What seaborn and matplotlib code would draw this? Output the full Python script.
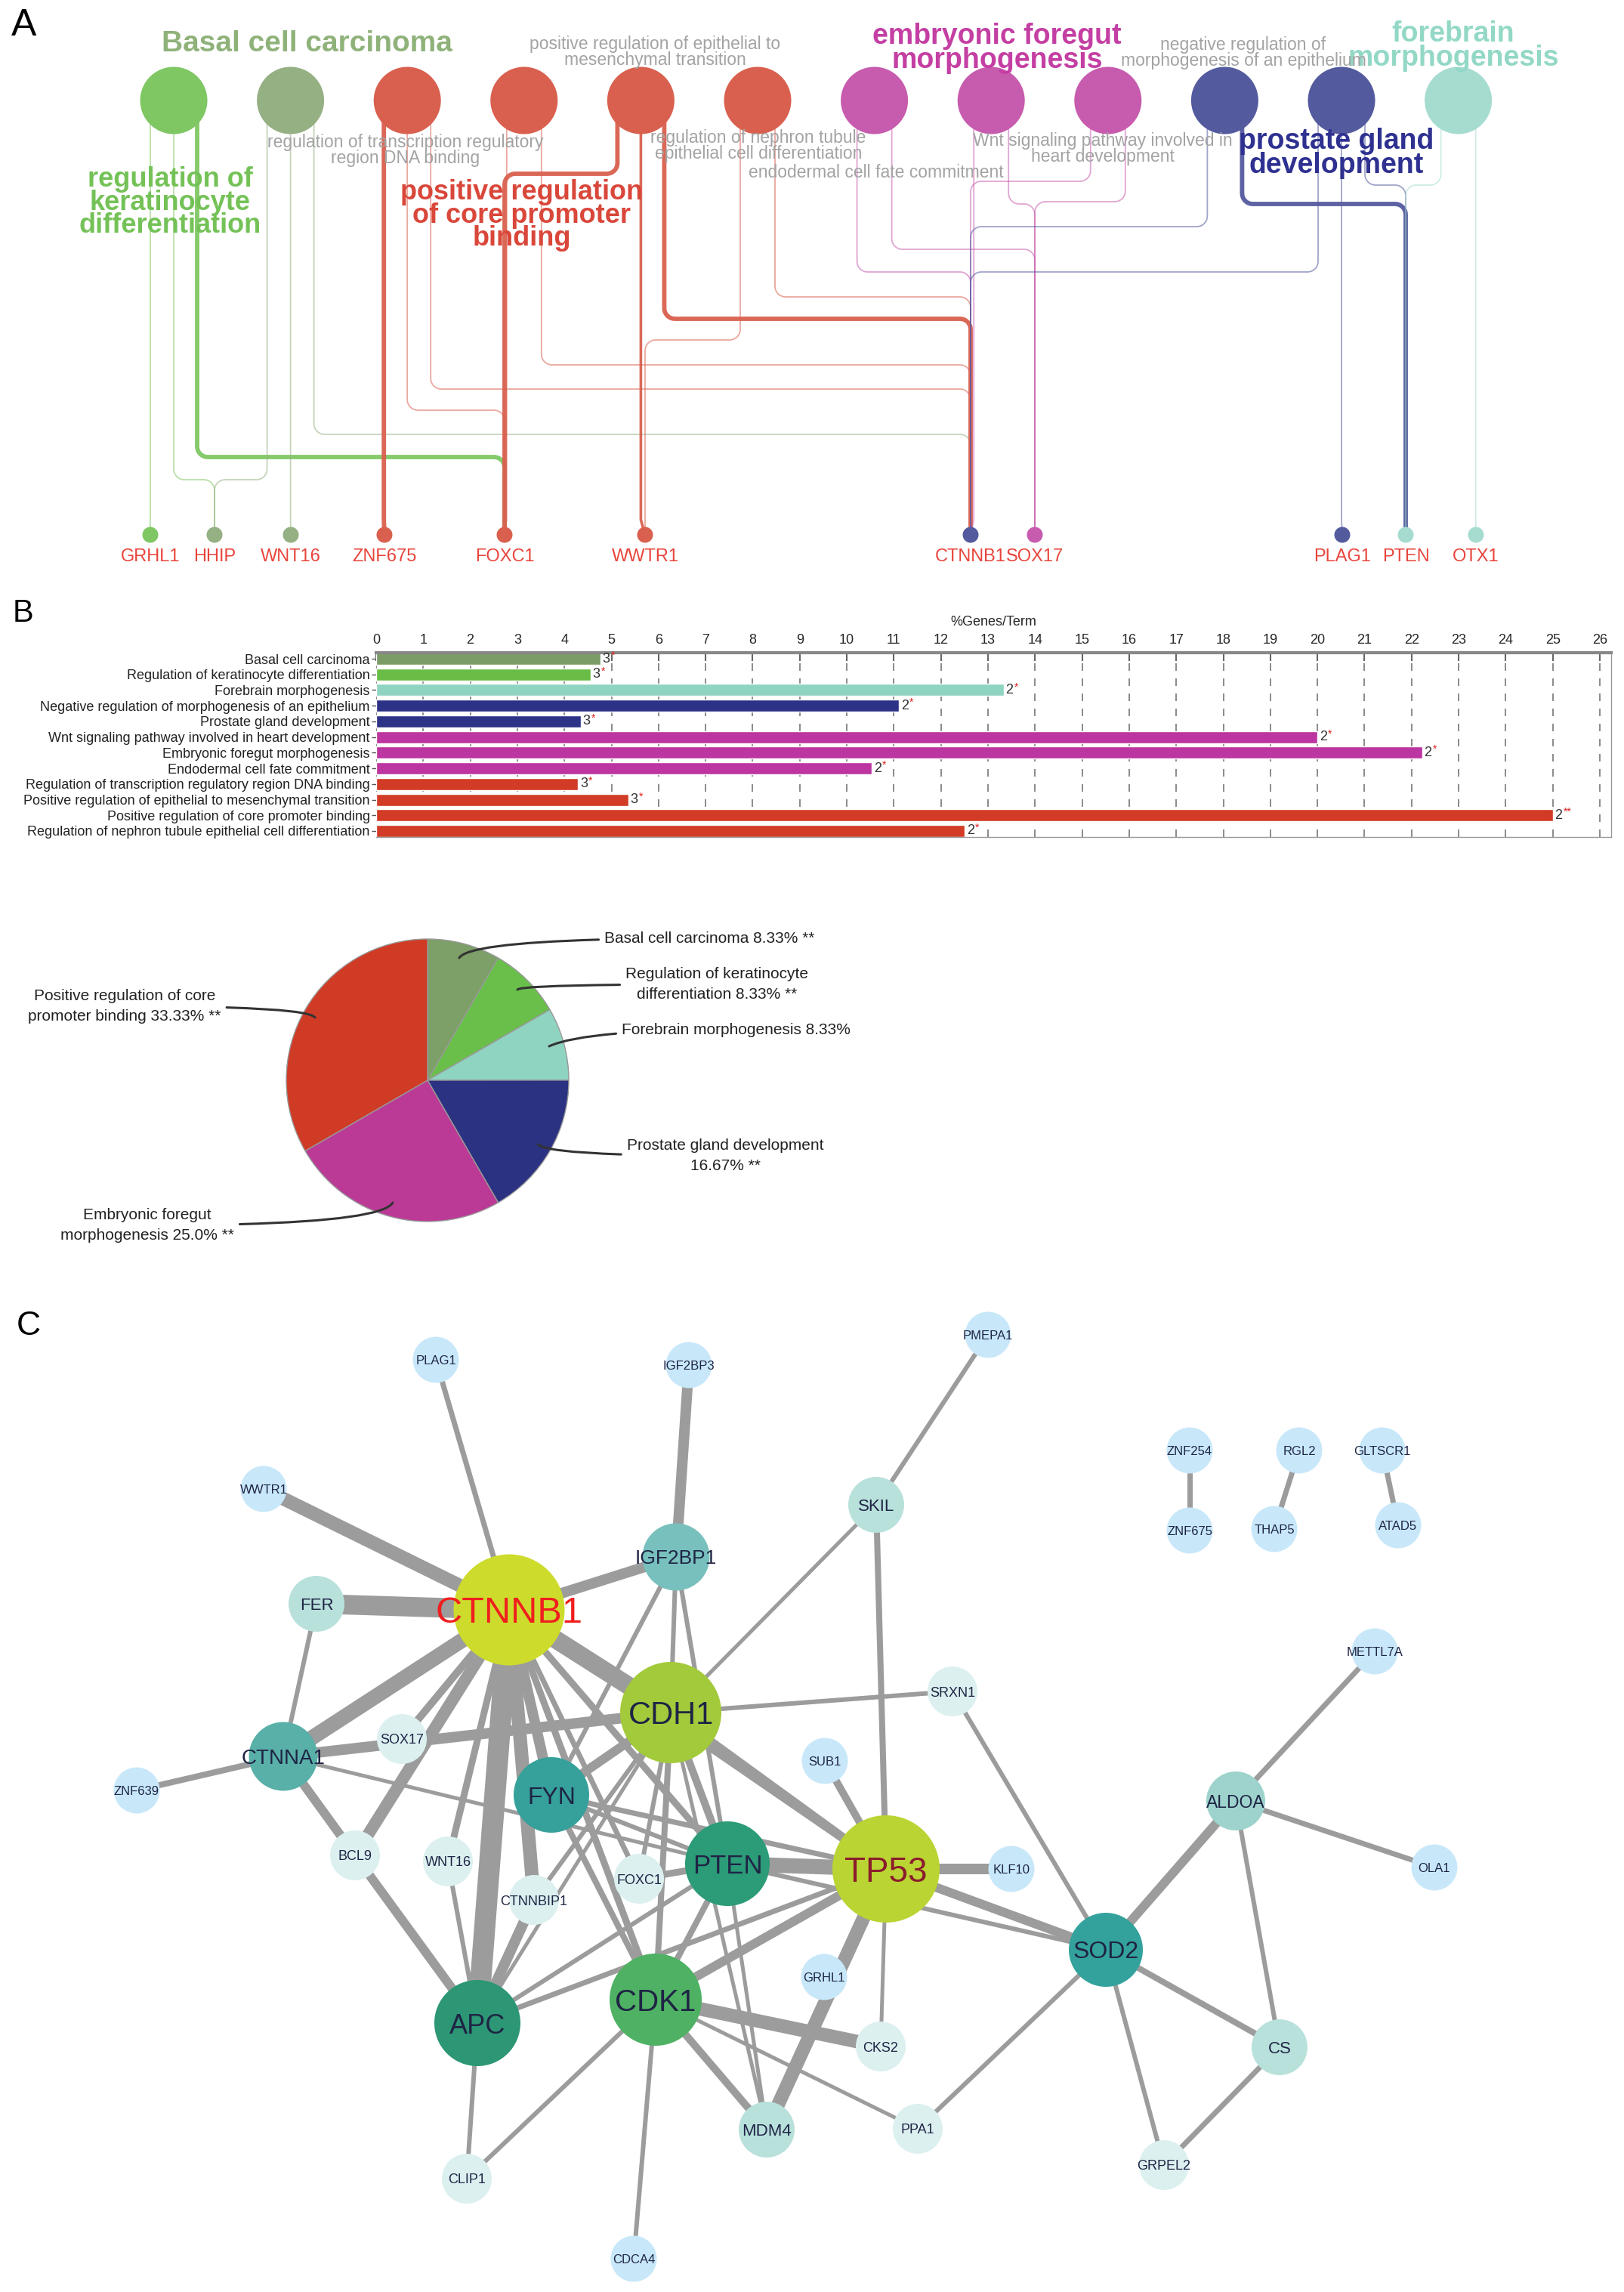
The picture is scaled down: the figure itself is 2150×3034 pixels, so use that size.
import textwrap

import matplotlib
matplotlib.use("Agg")
import matplotlib.pyplot as plt
import numpy as np
import pandas as pd
import seaborn as sns
from matplotlib.collections import LineCollection

sns.set_theme(style="white")
plt.rcParams["font.family"] = ["Liberation Sans", "DejaVu Sans"]

W, H = 2150, 3034

# ---------------- data: panel A (ClueGO terms -> genes)
go_terms = ["regulation of keratinocyte differentiation", "Basal cell carcinoma",
            "regulation of transcription regulatory region DNA binding",
            "positive regulation of core promoter binding",
            "positive regulation of epithelial to mesenchymal transition",
            "regulation of nephron tubule epithelial cell differentiation",
            "endodermal cell fate commitment", "embryonic foregut morphogenesis",
            "Wnt signaling pathway involved in heart development",
            "negative regulation of morphogenesis of an epithelium",
            "prostate gland development", "forebrain morphogenesis"]
go_group = ["kera", "basal", "red", "red", "red", "red", "mag", "mag", "mag", "navy", "navy", "teal"]
genes_a = ["GRHL1", "HHIP", "WNT16", "ZNF675", "FOXC1", "WWTR1", "CTNNB1", "SOX17", "PLAG1", "PTEN", "OTX1"]
# (term index, gene, link strength 1-3)
go_links = [(0, "GRHL1", 1), (0, "HHIP", 1), (0, "FOXC1", 3),
            (1, "HHIP", 1), (1, "WNT16", 1), (1, "CTNNB1", 1),
            (2, "ZNF675", 3), (2, "FOXC1", 1), (2, "CTNNB1", 1),
            (3, "FOXC1", 1), (3, "CTNNB1", 1),
            (4, "FOXC1", 3), (4, "WWTR1", 2), (4, "CTNNB1", 3),
            (5, "WWTR1", 1), (5, "CTNNB1", 1),
            (6, "CTNNB1", 1), (6, "SOX17", 1),
            (7, "CTNNB1", 1), (7, "SOX17", 1),
            (8, "CTNNB1", 1), (8, "SOX17", 1),
            (9, "CTNNB1", 1), (9, "PTEN", 3),
            (10, "CTNNB1", 1), (10, "PLAG1", 1), (10, "PTEN", 1),
            (11, "PTEN", 1), (11, "OTX1", 1)]

# ---------------- data: panel B (bar chart + pie)
bar_terms = ["Basal cell carcinoma", "Regulation of keratinocyte differentiation",
             "Forebrain morphogenesis", "Negative regulation of morphogenesis of an epithelium",
             "Prostate gland development", "Wnt signaling pathway involved in heart development",
             "Embryonic foregut morphogenesis", "Endodermal cell fate commitment",
             "Regulation of transcription regulatory region DNA binding",
             "Positive regulation of epithelial to mesenchymal transition",
             "Positive regulation of core promoter binding",
             "Regulation of nephron tubule epithelial cell differentiation"]
bar_pct = [4.76, 4.55, 13.33, 11.11, 4.35, 20.0, 22.22, 10.53, 4.29, 5.36, 25.0, 12.5]
bar_genes = [3, 3, 2, 2, 3, 2, 2, 2, 3, 3, 2, 2]
bar_stars = ["*", "*", "*", "*", "*", "*", "*", "*", "*", "*", "**", "*"]

pie_terms = ["Basal cell carcinoma", "Regulation of keratinocyte differentiation",
             "Forebrain morphogenesis", "Prostate gland development",
             "Embryonic foregut morphogenesis", "Positive regulation of core promoter binding"]
pie_pct = [8.33, 8.33, 8.33, 16.67, 25.0, 33.33]
pie_sig = ["**", "**", "", "**", "**", "**"]

# ---------------- data: panel C (PPI network)
net_nodes = ["CTNNB1", "TP53", "CDH1", "CDK1", "APC", "PTEN", "FYN", "SOD2", "CTNNA1", "IGF2BP1",
             "ALDOA", "SKIL", "FER", "MDM4", "CS", "BCL9", "WNT16", "CTNNBIP1", "FOXC1", "SOX17",
             "SRXN1", "CKS2", "PPA1", "GRPEL2", "CLIP1", "PLAG1", "IGF2BP3", "WWTR1", "ZNF639",
             "PMEPA1", "ZNF254", "ZNF675", "RGL2", "THAP5", "GLTSCR1", "ATAD5", "METTL7A", "OLA1",
             "KLF10", "SUB1", "GRHL1", "CDCA4"]
net_edges = [("CTNNB1", "PLAG1", 7), ("CTNNB1", "WWTR1", 18), ("CTNNB1", "IGF2BP1", 14),
             ("CTNNB1", "FER", 26), ("CTNNB1", "CTNNA1", 20), ("CTNNB1", "SOX17", 10),
             ("CTNNB1", "BCL9", 16), ("CTNNB1", "APC", 28), ("CTNNB1", "CTNNBIP1", 18),
             ("CTNNB1", "WNT16", 9), ("CTNNB1", "FYN", 14), ("CTNNB1", "CDH1", 24),
             ("CTNNB1", "PTEN", 9), ("CTNNB1", "FOXC1", 7), ("CTNNB1", "CDK1", 9),
             ("CTNNB1", "TP53", 9), ("IGF2BP1", "IGF2BP3", 14), ("IGF2BP1", "CDH1", 6),
             ("IGF2BP1", "FYN", 6), ("IGF2BP1", "PTEN", 6), ("FER", "CTNNA1", 6),
             ("CTNNA1", "ZNF639", 8), ("CTNNA1", "BCL9", 12), ("CTNNA1", "CDH1", 14),
             ("CTNNA1", "PTEN", 5), ("BCL9", "APC", 12), ("WNT16", "APC", 6),
             ("CTNNBIP1", "APC", 14), ("CTNNBIP1", "CDH1", 6), ("APC", "CDH1", 5),
             ("APC", "PTEN", 6), ("APC", "TP53", 7), ("APC", "CLIP1", 6), ("FYN", "CDH1", 12),
             ("FYN", "PTEN", 6), ("FYN", "TP53", 7), ("FYN", "CDK1", 8), ("CDH1", "SKIL", 5),
             ("CDH1", "SRXN1", 6), ("CDH1", "PTEN", 10), ("CDH1", "TP53", 12), ("CDH1", "CDK1", 8),
             ("CDH1", "FOXC1", 6), ("CDH1", "MDM4", 5), ("SKIL", "PMEPA1", 6), ("SKIL", "TP53", 8),
             ("SRXN1", "SOD2", 6), ("SUB1", "TP53", 10), ("TP53", "KLF10", 14), ("TP53", "PTEN", 20),
             ("TP53", "SOD2", 12), ("TP53", "CDK1", 12), ("TP53", "MDM4", 18), ("TP53", "CKS2", 5),
             ("PTEN", "FOXC1", 9), ("PTEN", "CDK1", 8), ("PTEN", "MDM4", 5), ("PTEN", "SOD2", 6),
             ("CDK1", "CKS2", 18), ("CDK1", "MDM4", 10), ("CDK1", "PPA1", 5), ("CDK1", "CDCA4", 6),
             ("CDK1", "CLIP1", 6), ("SOD2", "ALDOA", 12), ("SOD2", "CS", 8), ("SOD2", "GRPEL2", 6),
             ("SOD2", "PPA1", 6), ("ALDOA", "METTL7A", 7), ("ALDOA", "OLA1", 7), ("ALDOA", "CS", 6),
             ("CS", "GRPEL2", 7), ("ZNF254", "ZNF675", 7), ("RGL2", "THAP5", 7),
             ("GLTSCR1", "ATAD5", 7)]

# ---------------- layout / styles
group_col = {"kera": "#7fc763", "basal": "#95b083", "red": "#d9604e", "mag": "#c75bae",
             "navy": "#535a9e", "teal": "#a6dcd0"}
term_x = [230 + 154.6 * i for i in range(len(go_terms))]
term_y = 133
gene_x = {"GRHL1": 199, "HHIP": 284, "WNT16": 385, "ZNF675": 509, "FOXC1": 668, "WWTR1": 854,
          "CTNNB1": 1285, "SOX17": 1370, "PLAG1": 1777, "PTEN": 1861, "OTX1": 1954}
gene_y = 708
bend_y = {(0, "HHIP"): 635, (0, "FOXC1"): 605, (1, "HHIP"): 635, (1, "CTNNB1"): 575,
          (2, "FOXC1"): 543, (2, "CTNNB1"): 515, (3, "CTNNB1"): 483, (4, "FOXC1"): 230,
          (4, "CTNNB1"): 422, (5, "WWTR1"): 450, (5, "CTNNB1"): 393, (6, "CTNNB1"): 360,
          (6, "SOX17"): 330, (7, "SOX17"): 270, (8, "CTNNB1"): 240, (8, "SOX17"): 267,
          (9, "CTNNB1"): 300, (9, "PTEN"): 270, (10, "CTNNB1"): 360, (10, "PTEN"): 245,
          (11, "PTEN"): 245}
a_labels = [("Basal cell carcinoma", 406, 58, "#8fb27a", 28, "bold"),
            ("regulation of\nkeratinocyte\ndifferentiation", 225, 268, "#74c257", 26, "bold"),
            ("positive regulation\nof core promoter\nbinding", 691, 285, "#d9473a", 26, "bold"),
            ("embryonic foregut\nmorphogenesis", 1320, 64, "#c43fa3", 27, "bold"),
            ("forebrain\nmorphogenesis", 1924, 61, "#93d8c6", 27, "bold"),
            ("prostate gland\ndevelopment", 1769, 203, "#2e3190", 27, "bold"),
            ("positive regulation of epithelial to\nmesenchymal transition", 867, 69, "#a3a3a3", 16.5, "normal"),
            ("regulation of transcription regulatory\nregion DNA binding", 537, 199, "#a3a3a3", 16.5, "normal"),
            ("regulation of nephron tubule\nepithelial cell differentiation", 1004, 193, "#a3a3a3", 16.5, "normal"),
            ("endodermal cell fate commitment", 1160, 228, "#a3a3a3", 16.5, "normal"),
            ("Wnt signaling pathway involved in\nheart development", 1460, 197, "#a3a3a3", 16.5, "normal"),
            ("negative regulation of\nmorphogenesis of an epithelium", 1646, 70, "#a3a3a3", 16.5, "normal")]

bar_colors = ["#7b9c66", "#69bd46", "#8fd4c1", "#2c3387", "#2c3387", "#bd35a0", "#bd35a0",
              "#bd35a0", "#d23b25", "#d23b25", "#d23b25", "#d23b25"]
pie_colors = ["#7d9f68", "#6abf4b", "#8fd3c1", "#2b3282", "#bb3a96", "#d03b26"]
pie_center, pie_r = (566, 1430), 187
pie_wrap = [40, 26, 40, 27, 22, 27]
pie_anchor = [(608, 1268), (685, 1310), (727, 1385), (712, 1515), (520, 1592), (417, 1347)]
pie_text = [(800, 1242, "left"), (949, 1303, "center"), (823, 1363, "left"),
            (960, 1530, "center"), (195, 1622, "center"), (165, 1332, "center")]
pie_angle = [60, 60, 25, -45, 60, -60]

node_pos = {"PLAG1": (577, 1800), "IGF2BP3": (912, 1807), "WWTR1": (349, 1971),
            "IGF2BP1": (895, 2061), "CTNNB1": (674, 2131), "FER": (419, 2123), "CDH1": (888, 2267),
            "SOX17": (532, 2302), "CTNNA1": (375, 2325), "ZNF639": (181, 2370), "FYN": (730, 2376),
            "PMEPA1": (1308, 1767), "SKIL": (1160, 1992), "ZNF254": (1575, 1920),
            "ZNF675": (1575, 2026), "RGL2": (1720, 1920), "THAP5": (1687, 2024),
            "GLTSCR1": (1830, 1920), "ATAD5": (1851, 2019), "METTL7A": (1820, 2186),
            "SRXN1": (1261, 2239), "SUB1": (1092, 2331), "ALDOA": (1636, 2384), "BCL9": (470, 2456),
            "WNT16": (593, 2464), "CTNNBIP1": (707, 2515), "FOXC1": (846, 2487), "PTEN": (963, 2467),
            "APC": (632, 2678), "CDK1": (868, 2647), "MDM4": (1015, 2819), "CLIP1": (618, 2884),
            "CDCA4": (839, 2990), "GRHL1": (1091, 2617), "TP53": (1173, 2474), "KLF10": (1339, 2474),
            "OLA1": (1899, 2472), "SOD2": (1464, 2581), "CKS2": (1166, 2709), "CS": (1694, 2710),
            "PPA1": (1215, 2818), "GRPEL2": (1541, 2866)}
# colour, diameter (px), label size (pt)
node_style = {"CTNNB1": ("#cddc2c", 147, 35), "TP53": ("#bad533", 142, 33),
              "CDH1": ("#a3ca3b", 134, 30), "CDK1": ("#4fb163", 122, 29),
              "APC": ("#2c9675", 114, 26), "PTEN": ("#2c9b77", 112, 25),
              "FYN": ("#36a09a", 100, 23), "SOD2": ("#33a29c", 98, 23),
              "CTNNA1": ("#58b0a8", 91, 20), "IGF2BP1": ("#78c0bd", 89, 19),
              "ALDOA": ("#9dd3cc", 78, 16.5)}
for g in ["SKIL", "FER", "MDM4", "CS"]:
    node_style[g] = ("#b9e1dc", 74, 16)
for g in ["BCL9", "WNT16", "CTNNBIP1", "FOXC1", "SOX17", "SRXN1", "CKS2", "PPA1", "GRPEL2", "CLIP1"]:
    node_style[g] = ("#dcf0f0", 66, 13)
for g in net_nodes:
    node_style.setdefault(g, ("#c8e8fa", 61, 12))
label_col = {"CTNNB1": "#f01e1e", "TP53": "#8a1c2b"}


def rounded_route(sx, gx, y0, yb, y1, r=14):
    if abs(gx - sx) < 15:
        return [sx, sx, gx], [y0, y1 - 20, y1]
    d = np.sign(gx - sx)
    r = min(r, abs(gx - sx) / 2)
    t = np.linspace(0, np.pi / 2, 10)
    x1 = sx + d * r - d * r * np.cos(t)
    ya = yb - r + r * np.sin(t)
    x2 = gx - d * r + d * r * np.sin(t)
    yc = yb + r - r * np.cos(t)
    return np.r_[sx, x1, x2, gx], np.r_[y0, ya, yc, y1]


fig = plt.figure(figsize=(W / 100, H / 100), dpi=100)
ax = fig.add_axes([0, 0, 1, 1])

# ---------------- panel A
for i in range(len(go_terms)):
    mine = sorted([l for l in go_links if l[0] == i], key=lambda l: gene_x[l[1]])
    n = len(mine)
    step = 31 if n == 3 else 46
    for k, (ti, g, s) in enumerate(mine):
        sx = term_x[i] + (k - (n - 1) / 2) * step
        xs, ys = rounded_route(sx, gene_x[g], term_y, bend_y.get((ti, g), 0), gene_y)
        ax.plot(xs, ys, color=group_col[go_group[i]], lw={1: 1.3, 2: 2.6, 3: 4.2}[s],
                alpha=0.55 if s == 1 else 0.95, zorder=1, solid_capstyle="butt")

terms_df = pd.DataFrame({"term": go_terms, "x": term_x, "y": term_y})
sns.scatterplot(data=terms_df, x="x", y="y", hue="term",
                palette={t: group_col[g] for t, g in zip(go_terms, go_group)},
                s=(89 * 0.72) ** 2, linewidth=0, legend=False, ax=ax, zorder=2)

gene_col = {}
for ti, g, s in go_links:
    gene_col[g] = group_col[go_group[ti]]
genes_df = pd.DataFrame({"gene": genes_a, "x": [gene_x[g] for g in genes_a], "y": gene_y})
sns.scatterplot(data=genes_df, x="x", y="y", hue="gene", palette=gene_col,
                s=(21 * 0.72) ** 2, linewidth=0, legend=False, ax=ax, zorder=2)
for g in genes_a:
    ax.text(gene_x[g], 737, g, ha="center", va="center", fontsize=17, color="#e8453c", zorder=3)
for txt, x, y, c, fs, fw in a_labels:
    ax.text(x, y, txt, ha="center", va="center", fontsize=fs, color=c, fontweight=fw,
            linespacing=0.85, zorder=3)

# ---------------- panel B: pie
wedges, _ = ax.pie(pie_pct, colors=pie_colors, startangle=-90, counterclock=True,
                   center=pie_center, radius=pie_r, frame=True,
                   wedgeprops=dict(edgecolor="#999999", linewidth=1))
for i, term in enumerate(pie_terms):
    lab = textwrap.fill(f"{term} {pie_pct[i]}% {pie_sig[i]}".strip(), pie_wrap[i])
    tx, ty, ha = pie_text[i]
    ax.annotate(lab, xy=pie_anchor[i], xytext=(tx, ty), ha=ha, va="center", fontsize=15,
                color="#222222", linespacing=1.5,
                arrowprops=dict(arrowstyle="-", color="#333333", lw=2.2, shrinkA=3, shrinkB=0,
                                connectionstyle=f"angle3,angleA=0,angleB={pie_angle[i]}"))

# ---------------- panel C: network
segs = [[node_pos[a], node_pos[b]] for a, b, w in net_edges]
ax.add_collection(LineCollection(segs, colors="#9c9c9c", linewidths=[w * 0.72 for a, b, w in net_edges],
                                 capstyle="butt", zorder=1))
net_df = pd.DataFrame({"gene": net_nodes, "x": [node_pos[g][0] for g in net_nodes],
                       "y": [node_pos[g][1] for g in net_nodes]})
sns.scatterplot(data=net_df, x="x", y="y", hue="gene",
                palette={g: node_style[g][0] for g in net_nodes},
                size="gene", sizes={g: (node_style[g][1] * 0.72) ** 2 for g in net_nodes},
                linewidth=0, legend=False, ax=ax, zorder=2)
for g in net_nodes:
    x, y = node_pos[g]
    ax.text(x, y, g, ha="center", va="center_baseline", fontsize=node_style[g][2],
            color=label_col.get(g, "#1e2444"), zorder=3)

ax.text(32, 34, "A", ha="center", va="center", fontsize=36, color="black")
ax.text(30, 812, "B", ha="center", va="center", fontsize=30, color="black")
ax.text(38, 1755, "C", ha="center", va="center", fontsize=32, color="black")

ax.set_xlim(0, W)
ax.set_ylim(H, 0)
ax.set_aspect("auto")
ax.axis("off")

# ---------------- panel B: bar chart
x0, x1, y0, y1 = 498, 2133, 864, 1108
axB = fig.add_axes([x0 / W, 1 - y1 / H, (x1 - x0) / W, (y1 - y0) / H])
sns.barplot(x=bar_pct, y=bar_terms, hue=bar_terms, palette=bar_colors, legend=False,
            orient="h", width=0.77, saturation=1, ax=axB)
axB.set_xlim(0, 26.24)
axB.set_ylim(11.386, -0.386)
axB.set_xticks(range(27))
axB.xaxis.tick_top()
axB.tick_params(axis="x", top=True, bottom=False, labeltop=True, labelbottom=False,
                direction="in", length=8, width=1.5, color="#666666", labelsize=13, pad=6)
axB.tick_params(axis="y", left=True, length=4, width=1, color="#555555", labelsize=13,
                labelcolor="#222222", pad=2)
axB.xaxis.set_label_position("top")
axB.set_xlabel("%Genes/Term", fontsize=13, labelpad=8)
axB.set_ylabel("")
axB.grid(axis="x", linestyle=(0, (6, 6)), color="#777777", linewidth=1.2)
axB.grid(axis="y", visible=False)
axB.set_axisbelow(True)
axB.spines["left"].set_visible(False)
axB.spines["top"].set_color("#888888")
axB.spines["top"].set_linewidth(3)
for sp in ["right", "bottom"]:
    axB.spines[sp].set_color("#999999")
    axB.spines[sp].set_linewidth(1)
for i, v in enumerate(bar_pct):
    axB.annotate(str(bar_genes[i]), xy=(v, i), xytext=(2, 0), textcoords="offset points",
                 ha="left", va="center", fontsize=13, color="#333333")
    axB.annotate(bar_stars[i], xy=(v, i), xytext=(10, 3), textcoords="offset points",
                 ha="left", va="center", fontsize=10, color="#e02020")

fig.savefig("out.png", dpi=100)
